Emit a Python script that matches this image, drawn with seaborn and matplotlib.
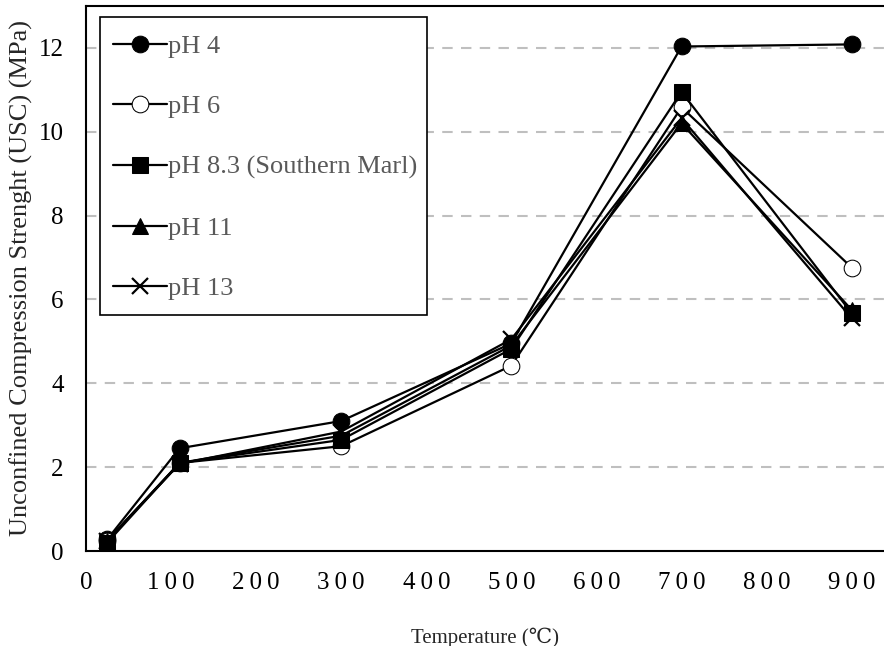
import matplotlib
matplotlib.use("Agg")
import matplotlib.pyplot as plt
from matplotlib.patches import Rectangle
import seaborn as sns
import pandas as pd

temperature = [25, 110, 300, 500, 700, 900]
ph4 = [0.28, 2.45, 3.10, 4.95, 12.03, 12.08]
ph6 = [0.25, 2.10, 2.50, 4.42, 10.58, 6.76]
ph83 = [0.20, 2.10, 2.65, 4.82, 10.95, 5.67]
ph11 = [0.25, 2.10, 2.75, 4.90, 10.20, 5.75]
ph13 = [0.25, 2.08, 2.85, 5.05, 10.32, 5.55]
labels = ["pH 4", "pH 6", "pH 8.3 (Southern Marl)", "pH 11", "pH 13"]
yticks = [0, 2, 4, 6, 8, 10, 12]
xticks = [0, 100, 200, 300, 400, 500, 600, 700, 800, 900]

series = [ph4, ph6, ph83, ph11, ph13]
styles = [
    dict(marker="o", markersize=12, markerfacecolor="black"),
    dict(marker="o", markersize=12, markerfacecolor="white"),
    dict(marker="s", markersize=11.5, markerfacecolor="black"),
    dict(marker="^", markersize=11, markerfacecolor="black"),
    dict(marker="x", markersize=12, markeredgewidth=1.6),
]

sns.set_theme(style="white")
plt.rcParams["font.family"] = ["Liberation Serif", "DejaVu Serif"]

fig = plt.figure(figsize=(8.84, 6.46), dpi=100)
ax = fig.add_axes([0.0973, 0.147, 0.9027, 0.844])

for lab, vals, st in zip(labels, series, styles):
    df = pd.DataFrame({"Temperature": temperature, "USC": vals})
    sns.lineplot(data=df, x="Temperature", y="USC", ax=ax, color="black",
                 linewidth=1.6, markeredgecolor="black", label=lab, **st)

ax.set_xlim(0, 938)
ax.set_ylim(0, 13)
ax.set_yticks(yticks)
ax.set_xticks(xticks)
ax.set_xticklabels(["\u2009".join(str(t)) for t in xticks], fontsize=18)
ax.set_yticklabels([str(t) for t in yticks], fontsize=18)
ax.tick_params(axis="y", length=0, pad=16, colors="black")
ax.tick_params(axis="x", length=0, pad=15, colors="black")
for y in yticks[1:]:
    ax.axhline(y, color="#BFBFBF", linestyle=(0, (5, 4)), linewidth=1.5, zorder=0)

for s in ["left", "bottom", "top"]:
    ax.spines[s].set_color("black")
    ax.spines[s].set_linewidth(1.5)
ax.spines["right"].set_visible(False)

ax.set_xlabel("Temperature (℃)", fontsize=15, labelpad=24)
ax.set_ylabel("Unconfined Compression Strenght (USC) (MPa)", fontsize=19, labelpad=4)

# legend box (white, black border) drawn behind the legend entries
ax.add_patch(Rectangle((0.0175, 0.433), 0.4098, 0.5468, transform=ax.transAxes,
                       facecolor="white", edgecolor="black", linewidth=1.2, zorder=3))

leg = ax.legend(loc="upper left", bbox_to_anchor=(0.0088, 0.9835), fontsize=19,
                frameon=False, handlelength=2.05,
                handletextpad=0.05, labelspacing=1.4, borderpad=0.75, borderaxespad=0)
leg.set_zorder(5)
for t in leg.get_texts():
    t.set_color("#595959")

fig.savefig("out.png", dpi=100)
